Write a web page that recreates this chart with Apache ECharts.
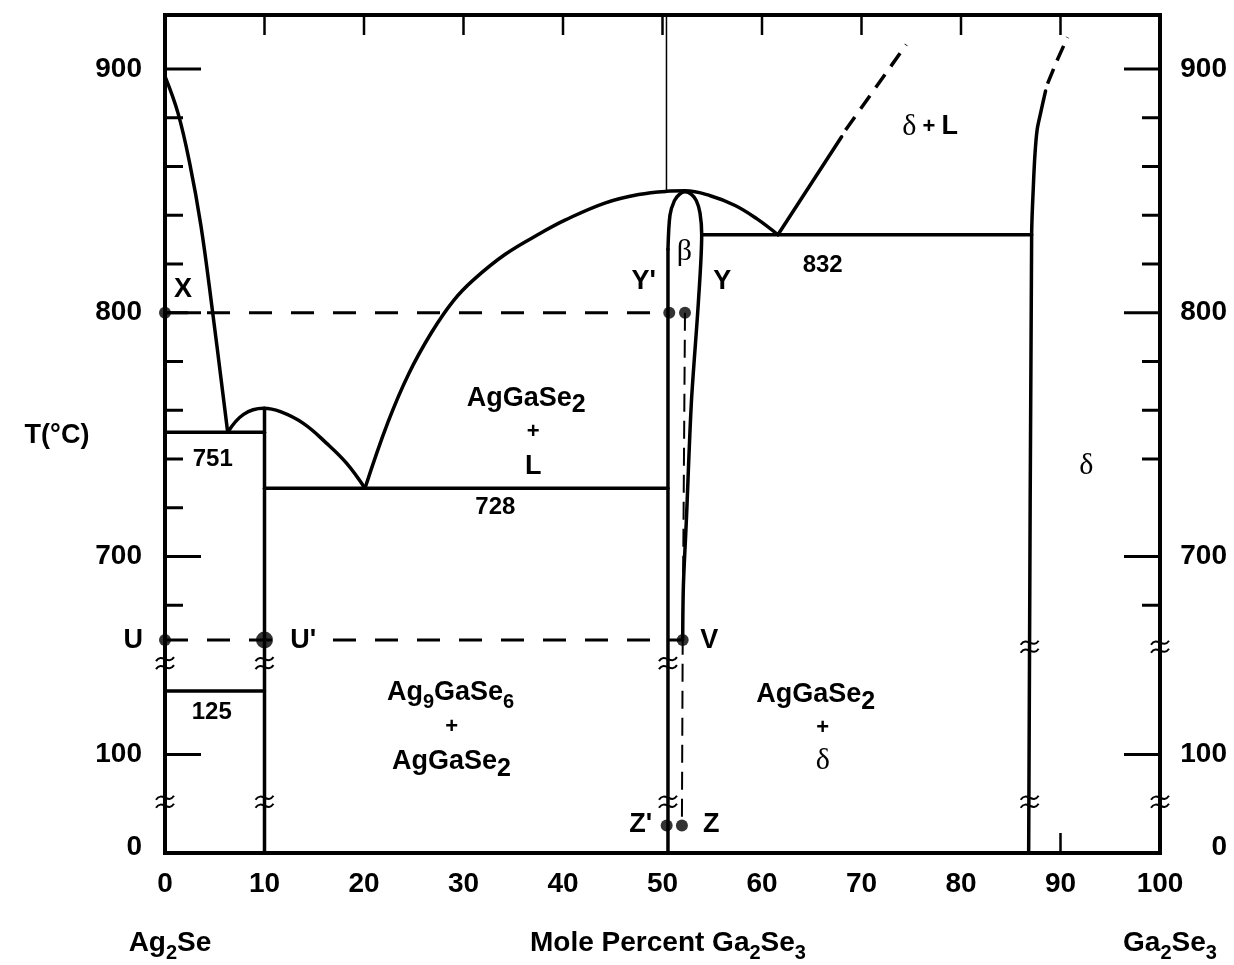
<!DOCTYPE html>
<html>
<head>
<meta charset="utf-8">
<script src="https://cdn.jsdelivr.net/npm/echarts@6/dist/echarts.min.js"></script>
<style>html,body{margin:0;padding:0;background:#fff}#c{width:1234px;height:965px}</style>
</head>
<body>
<div id="c"></div>
<script>
// ---------- axis values ----------
const xTickValues = [0, 10, 20, 30, 40, 50, 60, 70, 80, 90, 100];
const yLabelValues = [900, 800, 700, 100, 0];
const yMajorTicks = [900, 800, 700, 100];
const yMinorTicksLeft = [880, 860, 840, 820, 780, 760, 740, 720, 680];
const yMinorTicksRight = [880, 860, 840, 820, 780, 760, 740, 680];
const topTickValues = [10, 20, 30, 40, 50, 60, 70, 80, 90];
const bottomTickValues = [90];

// ---------- phase boundaries: [mole % Ga2Se3, T in °C] ----------
const liquidusAg2Se = [[0, 897], [1.3, 882], [2.5, 861], [3.6, 836], [4.7, 803], [6.3, 751]];
const liquidusAg9GaSe6 = [[6.3, 751], [7.9, 758.3], [9.9, 760.8], [11.6, 759.4], [13.9, 754.6], [16.25, 746.4], [18.26, 738.2], [20.1, 728]];
const liquidusAgGaSe2 = [[20.1, 728], [22.4, 755], [24.5, 775], [26.8, 792], [29, 805], [31, 813.5], [34.2, 824], [37.9, 833], [40.2, 838], [44.2, 845], [47.6, 848.5], [50.4, 849.8], [52.26, 850], [54.8, 848], [57.3, 844], [59.5, 838.5], [61.6, 832]];
const liquidusDelta = [[61.6, 832], [68.0, 872.2]];
const liquidusDeltaDashed = [[68.4, 875], [74.5, 910]];
const compoundAg9GaSe6 = [[10, 0], [10, 760.8]];
const eutectic751 = [[0, 751], [10, 751]];
const eutectic728 = [[10, 728], [50.55, 728]];
const transition125 = [[0, 125], [10, 125]];
const eutectic832 = [[53.94, 832], [87.1, 832]];
const betaLeft = [[50.55, 0], [50.55, 826]];
const betaLoop = [[50.55, 826], [50.75, 840], [51.2, 846], [51.7, 848.6], [52.26, 849.6], [52.9, 848.6], [53.4, 846], [53.77, 840.9], [53.94, 832], [53.6, 804], [52.9, 763], [52.4, 715], [52.1, 688], [52.03, 665.7]];
const deltaBoundary = [[86.8, 0], [87.1, 832], [87.27, 851.7], [87.44, 865.4], [87.65, 875], [87.95, 881], [88.5, 891]];
const deltaBoundaryDashed = [[88.7, 894], [89.6, 903], [90.7, 913]];
const isotherm800 = [[0, 800], [50.55, 800]];
const isotherm666 = [[0, 665.7], [52.03, 665.7]];
const sectionYVZ = [[52.26, 800], [52.03, 665.7], [51.95, 28]];
const line50 = [[50.4, 922], [50.4, 849.7]];

// ---------- marked points ----------
const pointNames = ['X', "Y'", 'Y', 'U', "U'", 'V', "Z'", 'Z'];
const pointX = [0, 50.68, 52.26, 0, 10, 52.03, 50.42, 51.95];
const pointT = [800, 800, 800, 665.7, 665.7, 665.7, 28, 28];

// ---------- axis breaks [mole %, T] ----------
const axisBreaks = [[0, 136], [10, 136], [50.55, 136], [0, 52], [10, 52], [50.55, 52], [86.9, 663], [100, 663], [86.9, 52], [100, 52]];

// ---------- text annotations ----------
const annotations = [
  { text: '{m|X}', x: 1.81, t: 809.7 },
  { text: "{m|Y'}", x: 48.1, t: 812.6 },
  { text: '{g|β}', x: 52.2, t: 824.9 },
  { text: '{m|Y}', x: 56.0, t: 812.6 },
  { text: '{m|AgGaSe}{s2|2}', x: 36.3, t: 765 },
  { text: '{p|+}', x: 37.0, t: 751 },
  { text: '{m|L}', x: 37.0, t: 736.7 },
  { text: '{n|751}', x: 4.8, t: 740 },
  { text: '{n|728}', x: 33.2, t: 720.3 },
  { text: '{n|832}', x: 66.1, t: 819.6 },
  { text: '{n|125}', x: 4.7, t: 116.7 },
  { text: '{g|δ}{p| + }{m|L}', x: 76.9, t: 876.2 },
  { text: '{g|δ}', x: 92.6, t: 737 },
  { text: '{m|U}', x: -3.2, t: 665.7 },
  { text: "{mb|U'}", x: 13.9, t: 665.7 },
  { text: '{m|V}', x: 54.7, t: 665.7 },
  { text: '{m|Ag}{s|9}{m|GaSe}{s|6}', x: 28.7, t: 124.6 },
  { text: '{p|+}', x: 28.8, t: 110.8 },
  { text: '{m|AgGaSe}{s2|2}', x: 28.8, t: 92.4 },
  { text: '{m|AgGaSe}{s2|2}', x: 65.4, t: 123.7 },
  { text: '{p|+}', x: 66.1, t: 110.3 },
  { text: '{g|δ}', x: 66.1, t: 93 },
  { text: "{m|Z'}", x: 47.8, t: 28.4 },
  { text: '{m|Z}', x: 54.9, t: 28.4 }
];

// ---------- broken temperature scale ----------
// upper part (>=600 °C) linear, 100-600 °C section and 0-100 °C section compressed
const Y_MIN = 578.36, Y_MAX = 922.15;
function tToD(t) {
  if (t >= 600) return t;
  if (t >= 100) return 618.77 + (t - 100) * 1.041;
  return 578.36 + t * 0.4041;
}

const FONT = '"Liberation Sans", Arial, Helvetica, sans-serif';
const SERIF = '"Liberation Serif", "DejaVu Serif", serif';
const rich = {
  m: { fontSize: 27, fontWeight: 'bold', fontFamily: FONT, lineHeight: 40, color: '#000' },
  mb: { fontSize: 27, fontWeight: 'bold', fontFamily: FONT, lineHeight: 30, color: '#000', backgroundColor: '#fff', padding: [0, 6, 0, 6] },
  n: { fontSize: 24, fontWeight: 'bold', fontFamily: FONT, lineHeight: 30, color: '#000' },
  p: { fontSize: 22, fontWeight: 'bold', fontFamily: FONT, lineHeight: 30, color: '#000' },
  g: { fontSize: 30, fontWeight: 'normal', fontFamily: SERIF, lineHeight: 34, color: '#000' },
  s: { fontSize: 20, fontWeight: 'bold', fontFamily: FONT, lineHeight: 20, verticalAlign: 'bottom', color: '#000' },
  s2: { fontSize: 25, fontWeight: 'bold', fontFamily: FONT, lineHeight: 25, verticalAlign: 'bottom', color: '#000' },
  t: { fontSize: 28, fontWeight: 'bold', fontFamily: FONT, lineHeight: 40, color: '#000' },
  ts: { fontSize: 20, fontWeight: 'bold', fontFamily: FONT, lineHeight: 20, verticalAlign: 'bottom', color: '#000' }
};

function toD(pts) { return pts.map(p => [p[0], tToD(p[1])]); }
function lineSeries(pts, width, dash, smooth) {
  return {
    type: 'line', data: toD(pts), showSymbol: false, symbol: 'none', silent: true,
    animation: false, clip: false, smooth: smooth || false, z: 3,
    lineStyle: { color: '#000', width: width, type: dash || 'solid', cap: dash ? 'butt' : 'round', join: 'round' }
  };
}

const tickData = [];
yMajorTicks.forEach(v => { tickData.push([0, tToD(v), 1]); tickData.push([100, tToD(v), 1]); });
yMinorTicksLeft.forEach(v => tickData.push([0, tToD(v), 0]));
yMinorTicksRight.forEach(v => tickData.push([100, tToD(v), 0]));

const yLabelData = [];
yLabelValues.forEach(v => { yLabelData.push([0, tToD(v), v]); yLabelData.push([100, tToD(v), v]); });

const series = [
  lineSeries(liquidusAg2Se, 3.5, null, 0.4),
  lineSeries(liquidusAg9GaSe6, 3.5, null, 0.4),
  lineSeries(liquidusAgGaSe2, 3.5, null, 0.4),
  lineSeries(liquidusDelta, 3.5),
  lineSeries(liquidusDeltaDashed, 3.5, [16, 10]),
  lineSeries(compoundAg9GaSe6, 3.5),
  lineSeries(eutectic751, 3.5),
  lineSeries(eutectic728, 3.5),
  lineSeries(transition125, 3.5),
  lineSeries(eutectic832, 3.5),
  lineSeries(betaLeft, 3.5),
  lineSeries(betaLoop, 3.5, null, 0.3),
  lineSeries(deltaBoundary, 3.5, null, 0.3),
  lineSeries(deltaBoundaryDashed, 3.5, [16, 9]),
  lineSeries(isotherm800, 3, [23, 19]),
  lineSeries(isotherm666, 3, [23, 19]),
  lineSeries(sectionYVZ, 2, [18, 9]),
  lineSeries(line50, 1.5),
  {
    type: 'scatter', silent: true, animation: false, clip: false, z: 5,
    data: pointNames.map((n, i) => ({ name: n, value: [pointX[i], tToD(pointT[i])], symbolSize: n === "U'" ? 17 : 12 })),
    itemStyle: { color: '#000' }
  },
  { // y axis ticks (left and right)
    type: 'custom', silent: true, animation: false, clip: false, z: 4, data: tickData,
    renderItem: function (params, api) {
      const x = api.value(0), major = api.value(2);
      const p = api.coord([x, api.value(1)]);
      const dir = x < 50 ? 1 : -1;
      const len = major ? 36 : 18;
      return { type: 'line', shape: { x1: p[0], y1: p[1], x2: p[0] + dir * len, y2: p[1] }, style: { stroke: '#000', lineWidth: 3 } };
    }
  },
  { // y axis labels
    type: 'custom', silent: true, animation: false, clip: false, z: 4, data: yLabelData,
    renderItem: function (params, api) {
      const x = api.value(0), v = api.value(2);
      const p = api.coord([x, api.value(1)]);
      return {
        type: 'text',
        style: {
          text: String(v), x: p[0] + (x < 50 ? -23 : 67), y: p[1] - (v === 0 ? 6 : 0),
          align: 'right', verticalAlign: 'middle', fill: '#000',
          fontSize: 28, fontWeight: 'bold', fontFamily: FONT
        }
      };
    }
  },
  { // top frame ticks
    type: 'custom', silent: true, animation: false, clip: false, z: 4,
    data: topTickValues.map(v => [v, Y_MAX]),
    renderItem: function (params, api) {
      const p = api.coord([api.value(0), api.value(1)]);
      return { type: 'line', shape: { x1: p[0], y1: p[1], x2: p[0], y2: p[1] + 20 }, style: { stroke: '#000', lineWidth: 2.5 } };
    }
  },
  { // bottom frame ticks
    type: 'custom', silent: true, animation: false, clip: false, z: 4,
    data: bottomTickValues.map(v => [v, Y_MIN]),
    renderItem: function (params, api) {
      const p = api.coord([api.value(0), api.value(1)]);
      return { type: 'line', shape: { x1: p[0], y1: p[1], x2: p[0], y2: p[1] - 20 }, style: { stroke: '#000', lineWidth: 2.5 } };
    }
  },
  { // axis break marks
    type: 'custom', silent: true, animation: false, clip: false, z: 6,
    data: axisBreaks.map(b => [b[0], tToD(b[1])]),
    renderItem: function (params, api) {
      const p = api.coord([api.value(0), api.value(1)]);
      const mk = dy => ({
        type: 'bezierCurve',
        shape: { x1: p[0] - 9, y1: p[1] + dy + 2, cpx1: p[0] - 3, cpy1: p[1] + dy - 7, cpx2: p[0] + 3, cpy2: p[1] + dy + 7, x2: p[0] + 9, y2: p[1] + dy - 2 },
        style: { stroke: '#000', lineWidth: 2, fill: null }
      });
      return { type: 'group', children: [mk(-4), mk(4)] };
    }
  },
  { // annotations
    type: 'custom', silent: true, animation: false, clip: false, z: 7,
    data: annotations.map((a, i) => [a.x, tToD(a.t), i]),
    renderItem: function (params, api) {
      const p = api.coord([api.value(0), api.value(1)]);
      const a = annotations[api.value(2)];
      return {
        type: 'text',
        style: { text: a.text, rich: rich, x: p[0], y: p[1], align: 'center', verticalAlign: 'middle', fill: '#000', fontFamily: FONT, fontSize: 27, fontWeight: 'bold' }
      };
    }
  }
];

const chart = echarts.init(document.getElementById('c'), null, { renderer: 'canvas' });
chart.setOption({
  backgroundColor: '#fff',
  animation: false,
  grid: { left: 165, top: 15, width: 995, height: 838, show: true, borderColor: '#000', borderWidth: 4, backgroundColor: 'transparent', containLabel: false, outerBoundsMode: 'none' },
  xAxis: {
    type: 'value', min: 0, max: 100, interval: 10,
    axisLine: { show: false }, axisTick: { show: false }, splitLine: { show: false },
    axisLabel: { color: '#000', fontSize: 28, fontWeight: 'bold', fontFamily: FONT, margin: 17, formatter: v => (xTickValues.indexOf(v) >= 0 ? String(v) : '') }
  },
  yAxis: { type: 'value', min: Y_MIN, max: Y_MAX, show: false, splitLine: { show: false } },
  tooltip: { show: false },
  graphic: [
    { type: 'text', x: 57, y: 436, style: { text: 'T(°C)', align: 'center', verticalAlign: 'middle', fill: '#000', fontSize: 27, fontWeight: 'bold', fontFamily: FONT } },
    { type: 'text', x: 170, y: 943, style: { text: '{t|Ag}{ts|2}{t|Se}', rich: rich, align: 'center', verticalAlign: 'middle' } },
    { type: 'text', x: 668, y: 943, style: { text: '{t|Mole Percent Ga}{ts|2}{t|Se}{ts|3}', rich: rich, align: 'center', verticalAlign: 'middle' } },
    { type: 'text', x: 1170, y: 943, style: { text: '{t|Ga}{ts|2}{t|Se}{ts|3}', rich: rich, align: 'center', verticalAlign: 'middle' } }
  ],
  series: series
});
</script>
</body>
</html>
